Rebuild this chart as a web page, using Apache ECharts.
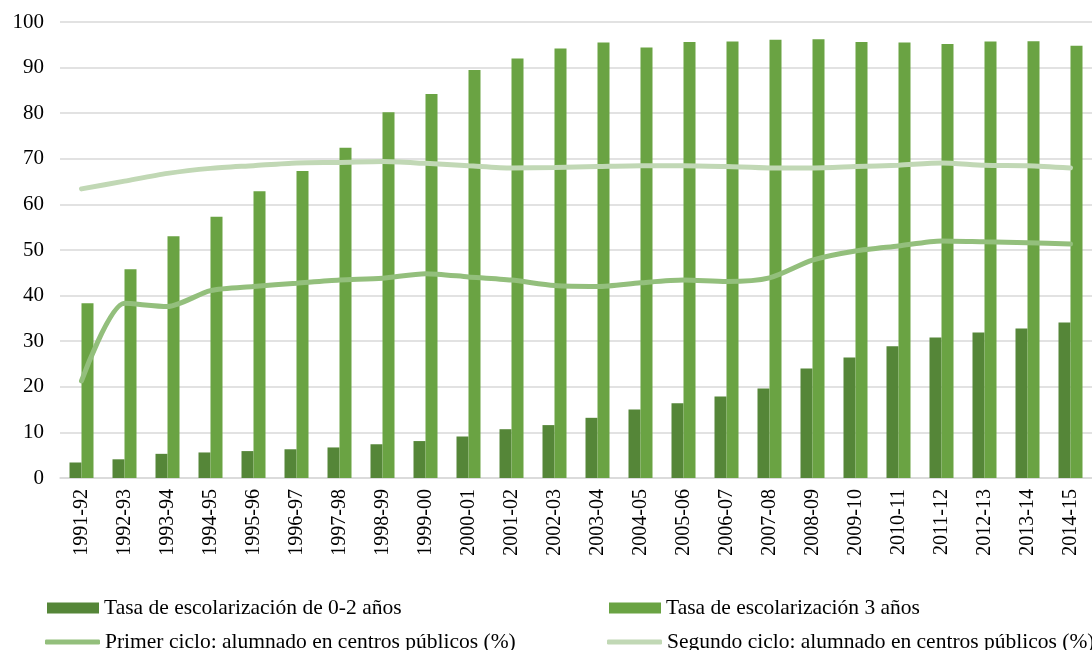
<!DOCTYPE html>
<html>
<head>
<meta charset="utf-8">
<script src="https://cdn.jsdelivr.net/npm/echarts@6/dist/echarts.min.js"></script>
<style>
  html, body { margin: 0; padding: 0; background: #fff; }
  #chart { width: 1092px; height: 650px; }
</style>
</head>
<body>
<div id="chart"></div>
<script>
// Datos
const cursos = ['1991-92', '1992-93', '1993-94', '1994-95', '1995-96', '1996-97', '1997-98', '1998-99',
  '1999-00', '2000-01', '2001-02', '2002-03', '2003-04', '2004-05', '2005-06', '2006-07', '2007-08',
  '2008-09', '2009-10', '2010-11', '2011-12', '2012-13', '2013-14', '2014-15']

const tasa02 = [3.4, 4.1, 5.3, 5.6, 5.9, 6.3, 6.7, 7.4, 8.1, 9.1, 10.7, 11.6, 13.2, 15.0, 16.4, 17.9, 19.6,
  24.0, 26.4, 28.9, 30.8, 31.9, 32.8, 34.1]

const tasa3 = [38.3, 45.8, 53.0, 57.3, 62.9, 67.3, 72.4, 80.2, 84.2, 89.5, 92.0, 94.2, 95.5, 94.4, 95.6, 95.7,
  96.1, 96.2, 95.6, 95.5, 95.2, 95.7, 95.8, 94.8]

const primerCiclo = [21.3, 38.3, 37.6, 41.1, 42.0, 42.7, 43.4, 43.8, 44.8, 44.1, 43.4, 42.2, 42.0, 42.8, 43.4,
  43.1, 43.9, 47.8, 49.8, 50.9, 52.0, 51.8, 51.6, 51.3]

const segundoCiclo = [63.4, 65.1, 66.8, 67.9, 68.5, 69.1, 69.2, 69.4, 69.0, 68.5, 68.0, 68.1, 68.3, 68.5, 68.5,
  68.3, 68.0, 68.0, 68.3, 68.6, 69.1, 68.6, 68.5, 68.0]

const yTicks = [0, 10, 20, 30, 40, 50, 60, 70, 80, 90, 100]

const nombres = [
  'Tasa de escolarización de 0-2 años',
  'Tasa de escolarización 3 años',
  'Primer ciclo: alumnado en centros públicos (%)',
  'Segundo ciclo: alumnado en centros públicos (%)'
]

const colores = ['#558638', '#6aa343', '#93bf7c', '#c1d8b5']
const fuente = 'Liberation Serif, Times New Roman, serif'

const chart = echarts.init(document.getElementById('chart'))

const legendText = { fontFamily: fuente, fontSize: 21.5, color: '#000' }
const legendBase = { padding: 0, itemGap: 0, textStyle: legendText }

const option = {
  animation: false,
  backgroundColor: '#fff',
  grid: { left: 60, right: -5, top: 22, bottom: 172 },
  legend: [
    { ...legendBase, data: [nombres[0]], left: 47, top: 597, icon: 'rect', itemWidth: 52, itemHeight: 11 },
    { ...legendBase, data: [nombres[1]], left: 609, top: 597, icon: 'rect', itemWidth: 52, itemHeight: 11 },
    { ...legendBase, data: [nombres[2]], left: 45, top: 631, icon: 'roundRect', itemWidth: 55, itemHeight: 5 },
    { ...legendBase, data: [nombres[3]], left: 607, top: 631, icon: 'roundRect', itemWidth: 55, itemHeight: 5 }
  ],
  xAxis: {
    type: 'category',
    data: cursos,
    axisTick: { show: false },
    axisLine: { lineStyle: { color: '#d9d9d9', width: 1.5 } },
    axisLabel: { rotate: 90, margin: 11, fontFamily: fuente, fontSize: 20, color: '#000', interval: 0 }
  },
  yAxis: {
    type: 'value',
    min: yTicks[0],
    max: yTicks[yTicks.length - 1],
    interval: yTicks[1] - yTicks[0],
    axisLine: { show: false },
    axisTick: { show: false },
    axisLabel: { margin: 16, fontFamily: fuente, fontSize: 21, color: '#000' },
    splitLine: { lineStyle: { color: '#d9d9d9', width: 1.5 } }
  },
  series: [
    {
      name: nombres[0], type: 'bar', data: tasa02, barWidth: 12, barGap: '0%',
      itemStyle: { color: colores[0] }
    },
    {
      name: nombres[1], type: 'bar', data: tasa3, barWidth: 12, barGap: '0%',
      itemStyle: { color: colores[1] }
    },
    {
      name: nombres[2], type: 'line', data: primerCiclo, smooth: 0.25, symbol: 'none',
      lineStyle: { color: colores[2], width: 5, cap: 'round' }, itemStyle: { color: colores[2] }
    },
    {
      name: nombres[3], type: 'line', data: segundoCiclo, smooth: 0.25, symbol: 'none',
      lineStyle: { color: colores[3], width: 5, cap: 'round' }, itemStyle: { color: colores[3] }
    }
  ]
}

chart.setOption(option)
</script>
</body>
</html>
